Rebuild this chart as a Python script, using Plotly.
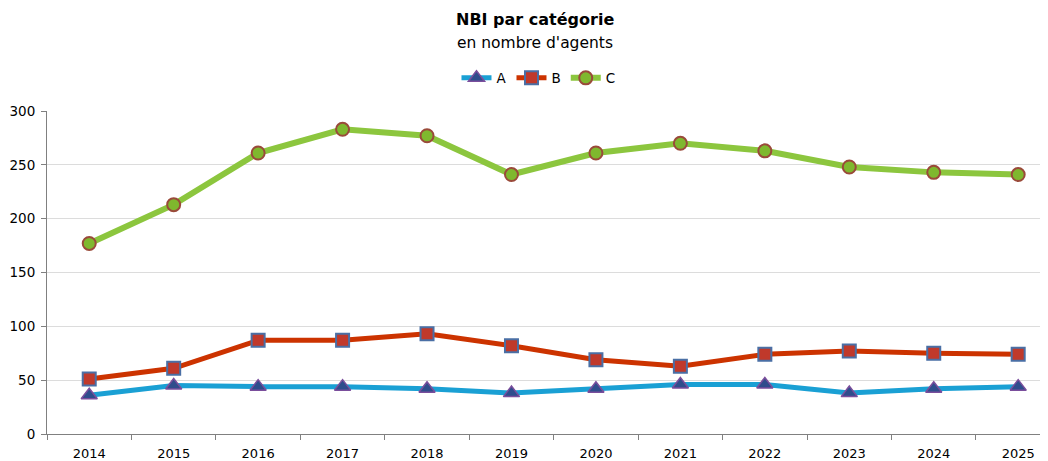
import plotly.graph_objects as go

years = ["2014", "2015", "2016", "2017", "2018", "2019", "2020", "2021", "2022", "2023", "2024", "2025"]
serie_a = [36, 45, 44, 44, 42, 38, 42, 46, 46, 38, 42, 44]
serie_b = [51, 61, 87, 87, 93, 82, 69, 63, 74, 77, 75, 74]
serie_c = [177, 213, 261, 283, 277, 241, 261, 270, 263, 248, 243, 241]

FONT = "DejaVu Sans"

fig = go.Figure()
fig.add_trace(go.Scatter(
    x=years, y=serie_a, name="A", mode="lines+markers",
    line=dict(color="#1AA0D4", width=5),
    marker=dict(symbol="triangle-up", size=14, color="#2F4D8C",
                line=dict(color="#7A4E9C", width=1.5)),
))
fig.add_trace(go.Scatter(
    x=years, y=serie_b, name="B", mode="lines+markers",
    line=dict(color="#CC3300", width=5),
    marker=dict(symbol="square", size=13, color="#C0392B",
                line=dict(color="#4A6FA5", width=2)),
))
fig.add_trace(go.Scatter(
    x=years, y=serie_c, name="C", mode="lines+markers",
    line=dict(color="#8CC63E", width=6),
    marker=dict(symbol="circle", size=13, color="#7FB82E",
                line=dict(color="#9A4A3A", width=2)),
))

fig.add_annotation(
    text="<b>NBI par catégorie</b>", xref="paper", yref="paper",
    x=0.488, y=1.282, xanchor="center", yanchor="middle", showarrow=False,
    font=dict(family=FONT, size=16, color="#000000"),
)
fig.add_annotation(
    text="en nombre d'agents", xref="paper", yref="paper",
    x=0.488, y=1.21, xanchor="center", yanchor="middle", showarrow=False,
    font=dict(family=FONT, size=15.5, color="#000000"),
)

fig.update_layout(
    width=1040, height=453,
    margin=dict(l=39, r=0, t=103, b=27, autoexpand=False),
    paper_bgcolor="white", plot_bgcolor="white",
    font=dict(family=FONT, size=12, color="#000000"),
    legend=dict(
        orientation="h", x=0.491, xanchor="center", y=1.102, yanchor="middle",
        font=dict(family=FONT, size=13.5), itemwidth=30,
        bgcolor="rgba(0,0,0,0)",
    ),
    showlegend=True,
)
fig.update_xaxes(
    type="category", range=[-0.5, 11.353], showgrid=False, showline=True,
    linecolor="#808080", linewidth=1, automargin=False,
    ticks="outside", tickson="boundaries", ticklen=5, tickcolor="#808080",
    tickfont=dict(family=FONT, size=13), zeroline=False, ticklabelstandoff=7,
)
fig.update_yaxes(
    range=[0, 300], dtick=50, showgrid=True, gridcolor="#DCDCDC", gridwidth=1,
    showline=True, linecolor="#808080", linewidth=1, automargin=False,
    ticks="outside", ticklen=5, tickcolor="#808080",
    tickfont=dict(family=FONT, size=13.5), zeroline=False, ticklabelstandoff=3,
)

fig.write_html("out.html")
